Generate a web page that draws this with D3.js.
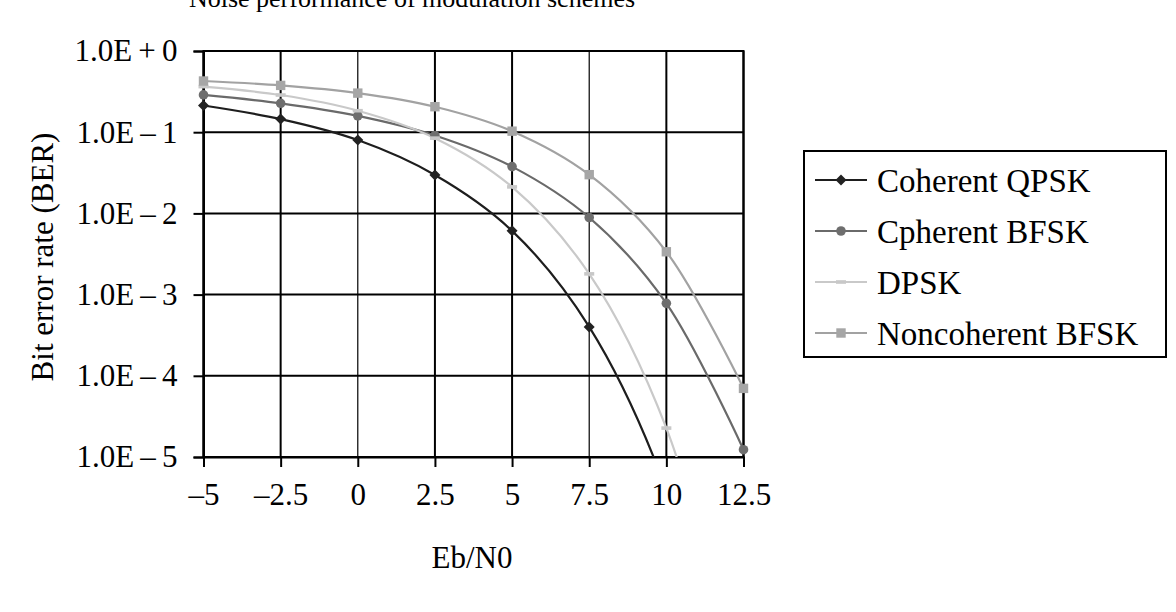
<!DOCTYPE html>
<html>
<head>
<meta charset="utf-8">
<script src="https://cdn.jsdelivr.net/npm/d3@7"></script>
<style>
  html, body { margin: 0; padding: 0; background: #fff; }
  svg { display: block; }
  text { font-family: "Liberation Serif", "Times New Roman", serif; fill: #000; }
</style>
</head>
<body>
<svg id="chart" width="1176" height="612"></svg>
<script>
// ---- data ----
const ebn0 = [-5, -2.5, 0, 2.5, 5, 7.5, 10, 12.5];
const xTickValues = [-5, -2.5, 0, 2.5, 5, 7.5, 10, 12.5];
const xTickLabels = ["\u20135", "\u20132.5", "0", "2.5", "5", "7.5", "10", "12.5"];
const yTickValues = [1, 1e-1, 1e-2, 1e-3, 1e-4, 1e-5];
const yTickLabels = ["1.0E\u2009+\u20090", "1.0E\u2009\u2013\u20091", "1.0E\u2009\u2013\u20092", "1.0E\u2009\u2013\u20093", "1.0E\u2009\u2013\u20094", "1.0E\u2009\u2013\u20095"];

const coherentQPSK = [0.213, 0.145, 0.080, 0.0297, 0.0061, 0.00040, 0.0000039, 0.0000000013];
const coherentBFSK = [0.288, 0.227, 0.159, 0.0912, 0.0377, 0.0089, 0.00078, 0.0000123];
const dpsk = [0.364, 0.287, 0.184, 0.0845, 0.0212, 0.0018, 0.0000227, 0.0000000095];
const noncoherentBFSK = [0.427, 0.377, 0.303, 0.206, 0.103, 0.030, 0.00337, 0.000070];

const seriesNames = ["Coherent QPSK", "Cpherent BFSK", "DPSK", "Noncoherent BFSK"];
const seriesValues = [coherentQPSK, coherentBFSK, dpsk, noncoherentBFSK];
const lineColors = ["#1e1e1e", "#6a6a6a", "#c9c9c9", "#a2a2a2"];
const markerColors = ["#222222", "#6e6e6e", "#c8c8c8", "#a6a6a6"];
const markerTypes = ["diamond", "circle", "dash", "square"];

const titleText = "Noise performance of modulation schemes";
const xTitle = "Eb/N0";
const yTitle = "Bit error rate (BER)";

// ---- layout ----
const L = 203.5, R = 743.5, T = 51, B = 457;
const svg = d3.select("#chart");
const x = d3.scaleLinear().domain([-5, 12.5]).range([L, R]);
const y = d3.scaleLog().domain([1e-5, 1]).range([B, T]);

svg.append("defs").append("clipPath").attr("id", "plotclip")
  .append("rect").attr("x", L).attr("y", T).attr("width", R - L).attr("height", B - T);

// title (cut off at top in the reference)
svg.append("text").attr("x", 412).attr("y", 7).attr("text-anchor", "middle")
  .attr("font-size", 26).text(titleText);

// gridlines
const grid = svg.append("g");
grid.selectAll("line.h").data(yTickValues).join("line")
  .attr("x1", L).attr("x2", R).attr("y1", d => y(d)).attr("y2", d => y(d))
  .attr("stroke", "#000").attr("stroke-width", 2);
grid.selectAll("line.v").data(xTickValues).join("line")
  .attr("x1", d => x(d)).attr("x2", d => x(d)).attr("y1", T).attr("y2", B)
  .attr("stroke", "#000").attr("stroke-width", d => (d === 0 || d === 7.5) ? 1.2 : 2);

// axes
const xAxis = d3.axisBottom(x).tickValues(xTickValues).tickSize(10).tickPadding(16)
  .tickFormat((d, i) => xTickLabels[i]);
const gx = svg.append("g").attr("transform", `translate(0,${B})`).call(xAxis);
gx.select(".domain").attr("stroke-width", 2);
gx.selectAll(".tick line").attr("stroke-width", 2);
gx.selectAll(".tick text").attr("font-size", 31).attr("font-family", "Liberation Serif, serif").attr("dy", "0.71em");

const yAxis = d3.axisLeft(y).tickValues(yTickValues).tickSize(10).tickPadding(16)
  .tickFormat((d, i) => yTickLabels[i]);
const gy = svg.append("g").attr("transform", `translate(${L},0)`).call(yAxis);
gy.select(".domain").attr("stroke-width", 2);
gy.selectAll(".tick line").attr("stroke-width", 2);
gy.selectAll(".tick text").attr("font-size", 31).attr("font-family", "Liberation Serif, serif");

// frame right/top
svg.append("rect").attr("x", L).attr("y", T).attr("width", R - L).attr("height", B - T)
  .attr("fill", "none").attr("stroke", "#000").attr("stroke-width", 2);

// axis titles
svg.append("text").attr("x", 472).attr("y", 568).attr("text-anchor", "middle")
  .attr("font-size", 31).text(xTitle);
svg.append("text").attr("transform", "translate(53,257) rotate(-90)").attr("text-anchor", "middle")
  .attr("font-size", 31).text(yTitle);

// marker drawing
function drawMarker(g, type, cx, cy, color) {
  if (type === "diamond") {
    g.append("path").attr("d", `M${cx},${cy - 5.5}L${cx + 5.5},${cy}L${cx},${cy + 5.5}L${cx - 5.5},${cy}Z`).attr("fill", color);
  } else if (type === "circle") {
    g.append("circle").attr("cx", cx).attr("cy", cy).attr("r", 4.8).attr("fill", color);
  } else if (type === "dash") {
    g.append("rect").attr("x", cx - 5).attr("y", cy - 1.8).attr("width", 10).attr("height", 3.6).attr("fill", color);
  } else {
    g.append("rect").attr("x", cx - 4.7).attr("y", cy - 4.7).attr("width", 9.4).attr("height", 9.4).attr("fill", color);
  }
}

// series
const line = d3.line().x(d => x(d[0])).y(d => y(d[1])).curve(d3.curveCatmullRom.alpha(0.5));
const plot = svg.append("g");
seriesValues.forEach((vals, i) => {
  const pts = ebn0.map((e, j) => [e, vals[j]]);
  plot.append("path").attr("d", line(pts)).attr("clip-path", "url(#plotclip)")
    .attr("fill", "none").attr("stroke", lineColors[i]).attr("stroke-width", 2.2);
});
seriesValues.forEach((vals, i) => {
  const mg = plot.append("g");
  ebn0.forEach((e, j) => {
    if (vals[j] >= 1e-5) drawMarker(mg, markerTypes[i], x(e), y(vals[j]), markerColors[i]);
  });
});

// legend
const lg = svg.append("g");
lg.append("rect").attr("x", 804).attr("y", 151).attr("width", 362).attr("height", 206)
  .attr("fill", "#fff").attr("stroke", "#000").attr("stroke-width", 2);
seriesNames.forEach((name, i) => {
  const cy = 180 + i * 51;
  lg.append("line").attr("x1", 815).attr("x2", 867).attr("y1", cy).attr("y2", cy)
    .attr("stroke", lineColors[i]).attr("stroke-width", 2.2);
  drawMarker(lg, markerTypes[i], 841, cy, markerColors[i]);
  lg.append("text").attr("x", 877).attr("y", cy).attr("dy", "0.35em")
    .attr("font-size", 33).text(name);
});
</script>
</body>
</html>
